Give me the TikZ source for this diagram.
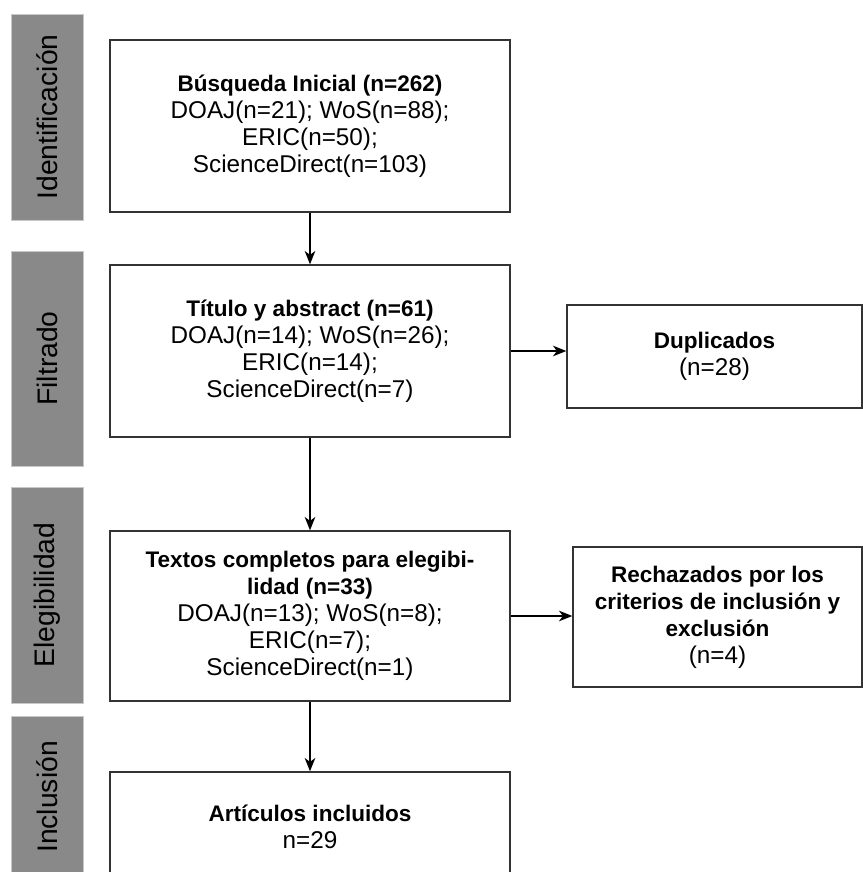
\documentclass[tikz,border=0pt]{standalone}
\usepackage{fontspec}
\setmainfont{Liberation Sans}
\usetikzlibrary{arrows.meta}
\definecolor{barfill}{RGB}{137,137,137}
\definecolor{barline}{RGB}{200,200,200}
\definecolor{boxline}{RGB}{51,51,51}
\newcommand{\hd}[1]{{\fontsize{16.9pt}{20.25pt}\selectfont\bfseries #1}}
\tikzset{
  phasebar/.style={rectangle, fill=barfill, draw=barline, line width=0.6pt, minimum height=54pt, inner sep=0pt, text=black, font=\fontsize{21.2pt}{24pt}\selectfont, rotate=90},
  stagebox/.style={rectangle, draw=boxline, line width=1.1pt, fill=white, minimum width=300pt, align=center, inner sep=2pt, font=\fontsize{18.2pt}{20.25pt}\selectfont},
  sidebox/.style={rectangle, draw=boxline, line width=1.1pt, fill=white, align=center, inner sep=2pt, font=\fontsize{18.2pt}{20.25pt}\selectfont},
  arr/.style={draw=black, line width=1.1pt, -{Stealth[length=10pt, width=8pt, inset=3pt]}}
}
\begin{document}
\begin{tikzpicture}[x=0.75pt, y=-0.75pt]
\useasboundingbox (0,0) rectangle (863,872);
\begin{scope}
\clip (0,0) rectangle (863,872);
% phase bars
\node[phasebar, minimum width=154.5pt] (p1) at (47,117) {Identificación};
\node[phasebar, minimum width=161.25pt] (p2) at (47,358.5) {Filtrado};
\node[phasebar, minimum width=162pt] (p3) at (47,595) {Elegibilidad};
\node[phasebar, minimum width=121.5pt] (p4) at (47,797) {Inclusión};
% main boxes
\node[stagebox, minimum height=129pt] (b1) at (310,126) {\hd{Búsqueda Inicial (n=262)}\\DOAJ(n=21); WoS(n=88);\\ERIC(n=50);\\ScienceDirect(n=103)};
\node[stagebox, minimum height=129pt] (b2) at (310,351) {\hd{Título y abstract (n=61)}\\DOAJ(n=14); WoS(n=26);\\ERIC(n=14);\\ScienceDirect(n=7)};
\node[stagebox, minimum height=127.5pt] (b3) at (310,616) {\hd{Textos completos para elegibi-}\\\hd{lidad (n=33)}\\DOAJ(n=13); WoS(n=8);\\ERIC(n=7);\\ScienceDirect(n=1)};
\node[stagebox, minimum height=82.5pt] (b4) at (310,827) {\hd{Artículos incluidos}\\n=29};
% side boxes
\node[sidebox, minimum width=221.25pt, minimum height=77.25pt] (dup) at (714.5,356.5) {\hd{Duplicados}\\(n=28)};
\node[sidebox, minimum width=216.75pt, minimum height=105pt] (rej) at (717.5,617) {\hd{Rechazados por los}\\\hd{criterios de inclusión y}\\\hd{exclusión}\\(n=4)};
% connectors
\draw[arr] (b1.south) -- (b2.north);
\draw[arr] (b2.south) -- (b3.north);
\draw[arr] (b3.south) -- (b4.north);
\draw[arr] (b2.east) -- (b2.east -| dup.west);
\draw[arr] (b3.east) -- (b3.east -| rej.west);
\end{scope}
\end{tikzpicture}
\end{document}
